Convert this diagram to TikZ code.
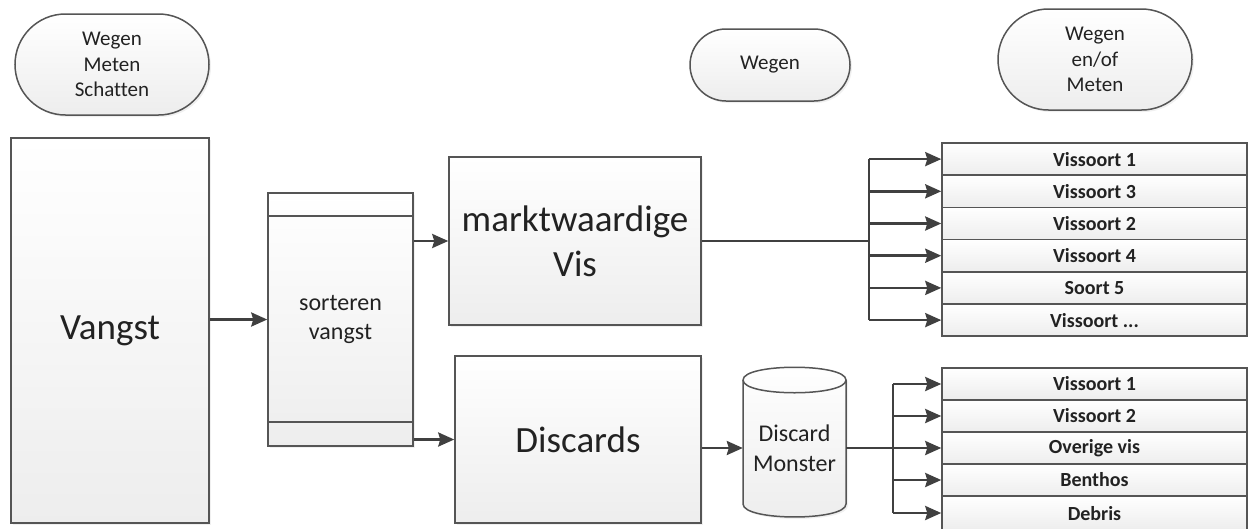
\documentclass[tikz,border=0pt]{standalone}
\usepackage{fontspec}
\setmainfont[Ligatures=NoCommon]{Carlito}
\usetikzlibrary{arrows.meta,shapes.misc,shadows}
\definecolor{bordc}{HTML}{555555}
\definecolor{arrc}{HTML}{404040}
\definecolor{txtc}{HTML}{222222}
\tikzset{
  shade/.style={top color=white, bottom color=gray!14},
  shad/.style={drop shadow={opacity=0.12,shadow xshift=2pt,shadow yshift=-2pt}},
  box/.style={draw=bordc, line width=1.5pt, shade, shad, text=txtc, align=center, inner sep=0pt},
  bigtext/.style={font=\fontsize{37}{45}\selectfont},
  midtext/.style={font=\fontsize{24}{29.5}\selectfont},
  smalltext/.style={font=\fontsize{21}{25.5}\selectfont},
  term/.style={box, rounded rectangle, smalltext},
  row/.style={draw=bordc, line width=1.5pt, shade, text=txtc, inner sep=0pt, minimum width=305, font=\fontsize{20}{24}\selectfont\bfseries},
  conn/.style={draw=arrc, line width=2.6pt},
  arr/.style={conn, -{Stealth[length=16pt,width=14pt,inset=2pt]}},
}
\begin{document}
\begin{tikzpicture}[x=1pt,y=-1pt]
\useasboundingbox (0,0) rectangle (1249,528);
% terminators
\node[term, minimum width=194, minimum height=101] (t1) at (112,64.5) {Wegen\\Meten\\Schatten};
\node[term, minimum width=160, minimum height=72] (t2) at (770,65) {Wegen};
\node[term, minimum width=194, minimum height=101] (t3) at (1095,59.5) {Wegen\\en/of\\Meten};
% main boxes
\node[box, bigtext, minimum width=198, minimum height=385] (v) at (110,330.5) {Vangst};
\node[box, midtext, minimum width=145, minimum height=253] (s) at (340.5,319.5) {sorteren\\vangst};
\draw[bordc, line width=1.5pt] (268,216) -- (413,216) (268,422) -- (413,422);
\node[box, bigtext, minimum width=252, minimum height=168] (m) at (575,241) {marktwaardige\\Vis};
\node[box, bigtext, minimum width=246, minimum height=167] (d) at (578,439.5) {Discards};
% cylinder
\path[draw=bordc, line width=1.5pt, shade, shad] (743,380) -- (743,504) .. controls (743,521.3) and (846,521.3) .. (846,504) -- (846,380) .. controls (846,363) and (743,363) .. (743,380) -- cycle;
\draw[bordc, line width=1.5pt] (743,380) .. controls (743,397) and (846,397) .. (846,380);
\node[midtext, text=txtc, align=center, minimum width=103, minimum height=138, inner sep=0pt] (dm) at (794.5,448) {Discard\\Monster};
% top list
\node[row, minimum height=32.2] (r1) at (1094.5,159.1) {Vissoort 1};
\node[row, minimum height=32.2] (r2) at (1094.5,191.3) {Vissoort 3};
\node[row, minimum height=32.2] (r3) at (1094.5,223.5) {Vissoort 2};
\node[row, minimum height=32.2] (r4) at (1094.5,255.7) {Vissoort 4};
\node[row, minimum height=32.2] (r5) at (1094.5,287.9) {Soort 5};
\node[row, minimum height=32.2] (r6) at (1094.5,320.1) {Vissoort ...};
% lower list
\node[row, minimum height=32] (l1) at (1094.5,384) {Vissoort 1};
\node[row, minimum height=32] (l2) at (1094.5,416) {Vissoort 2};
\node[row, minimum height=32] (l3) at (1094.5,448) {Overige vis};
\node[row, minimum height=32] (l4) at (1094.5,480) {Benthos};
\node[row, minimum height=34, text depth=0pt] (l5) at (1094.5,513) {Debris};
% connectors
\draw[arr] (v.east |- s) -- (s.west);
\draw[arr] (s.east |- m) -- (m.west);
\draw[arr] (s.east |- d) -- (d.west);
\draw[arr] (d.east |- dm) -- (dm.west);
\coordinate (b1) at (869,241);
\coordinate (b2) at (893,448);
\draw[conn] (m.east) -- (b1);
\draw[conn] (b1 |- r1) -- (b1 |- r6);
\foreach \i in {1,2,3,4,5,6}{\draw[arr] (b1 |- r\i) -- (r\i.west);}
\draw[conn] (dm.east) -- (b2);
\draw[conn] (b2 |- l1) -- (b2 |- l5);
\foreach \i in {1,2,3,4,5}{\draw[arr] (b2 |- l\i) -- (l\i.west);}
\end{tikzpicture}
\end{document}
